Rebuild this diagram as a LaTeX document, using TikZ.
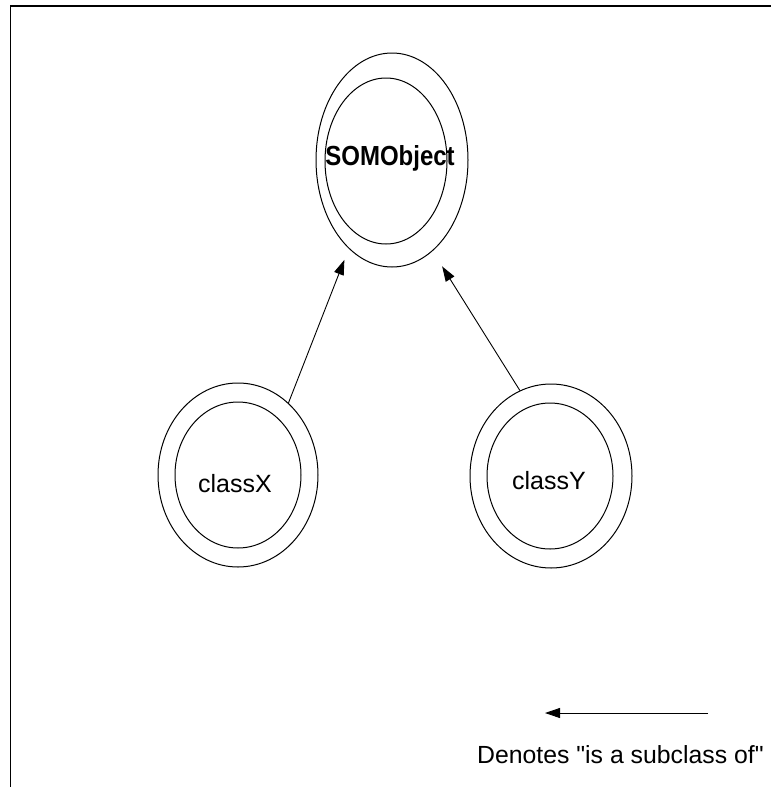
\documentclass[tikz,border=0pt]{standalone}
\usepackage{fontspec}
\setmainfont{Liberation Sans}
\newfontfamily\plainsans{Liberation Sans}
\usetikzlibrary{arrows.meta,shapes.geometric}
\begin{document}
\begin{tikzpicture}[x=1pt,y=-1pt,
  ring/.style={draw,ellipse,inner sep=0pt,line width=1pt},
  lbl/.style={inner sep=0pt,font=\fontsize{25}{29}\selectfont},
  isa/.style={line width=0.9pt,-{Triangle[length=15pt,width=10pt]}}]
\useasboundingbox (0,0) rectangle (771,787);
\draw[line width=1.8pt] (10.5,787) -- (10.5,6) -- (771,6);
% SOMObject
\node[ring,minimum width=152pt,minimum height=214pt] (so) at (392,160) {};
\node[ring,minimum width=122pt,minimum height=166pt] (si) at (386,161) {};
\node[lbl,font=\fontsize{24}{28}\selectfont\bfseries] (st) at (390,158) {\scalebox{1}[1.15]{SOMObject}};
% classX
\node[ring,minimum width=160pt,minimum height=184pt] (cx) at (238,475) {};
\node[ring,minimum width=126pt,minimum height=146pt] (cxi) at (238,475) {};
\node[lbl] (cxt) at (235,484) {classX};
% classY
\node[ring,minimum width=162pt,minimum height=184pt] (cy) at (551,476) {};
\node[ring,minimum width=126pt,minimum height=146pt] (cyi) at (550,476) {};
\node[lbl] (cyt) at (549,481) {classY};
% arrows
\draw[isa,shorten >=12pt] (cx.55.6) -- (so.244.4);
\draw[isa,shorten >=18pt] (cy.110) -- (so.294.8);
% legend
\coordinate (legR) at (708,713);
\coordinate (legL) at (545,713);
\draw[isa] (legR) -- (legL);
\node[lbl,font=\plainsans\fontsize{24.8}{29}\selectfont,anchor=base west] (legt) at (477,763) {Denotes "is a subclass of"};
\end{tikzpicture}
\end{document}
